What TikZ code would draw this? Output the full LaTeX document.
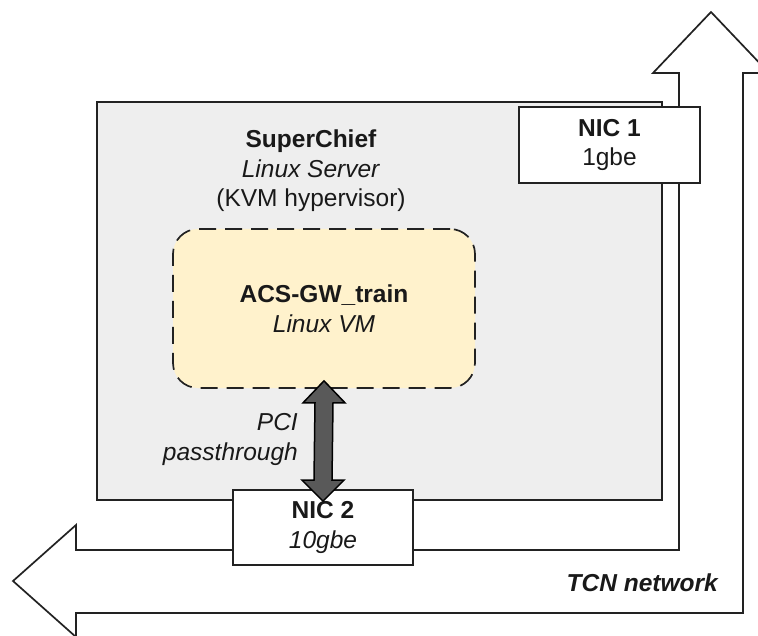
\documentclass[tikz,border=0pt]{standalone}
\usepackage{fontspec}
\setmainfont{Liberation Sans}
\usetikzlibrary{calc}

\definecolor{servergray}{HTML}{EEEEEE}
\definecolor{vmyellow}{HTML}{FFF2CC}
\definecolor{passgray}{HTML}{595959}
\definecolor{inkline}{HTML}{222222}

\tikzset{
  lbl/.style={font=\fontsize{24.5}{29.5}\selectfont, align=center, inner sep=0pt, text=black!90},
  boxline/.style={draw=inkline, line width=1.7pt},
  serverbox/.style={boxline, fill=servergray, rectangle, inner sep=0pt,
    minimum width=565pt, minimum height=398pt},
  nicbox/.style={boxline, fill=white, rectangle, inner sep=0pt,
    minimum width=181pt, minimum height=76pt, lbl},
  vmbox/.style={boxline, fill=vmyellow, rectangle, rounded corners=25pt,
    dash pattern=on 17pt off 9pt, inner sep=0pt,
    minimum width=302pt, minimum height=159pt, lbl, font=\fontsize{24.5}{30.5}\selectfont},
  netarrow/.style={draw=inkline, line width=1.7pt, fill=white, line join=miter},
  passarrow/.style={draw=black, line width=1.5pt, fill=passgray, line join=miter}
}

\begin{document}
\begin{tikzpicture}[x=1pt, y=-1pt]
  \useasboundingbox (0,0) rectangle (758,636);
  \clip (0,0) rectangle (758,636);

  % TCN network: L-shaped arrow pointing left and up
  \draw[netarrow] (13,581) -- (76,525) -- (76,550) -- (679,550) -- (679,73)
    -- (653,73) -- (711,12) -- (769,73) -- (743,73) -- (743,613)
    -- (76,613) -- (76,637) -- cycle;

  % host server
  \node[serverbox] (server) at (379.5,301) {};
  \node[lbl] (servertitle) at (311,171)
    {\textbf{SuperChief}\\ \textit{Linux Server}\\ (KVM hypervisor)};

  % guest VM
  \node[vmbox] (vm) at (324,308.5) {\textbf{ACS-GW\_train}\\ \textit{Linux VM}};

  % network interfaces
  \node[nicbox] (nic1) at (609.5,145) {\textbf{NIC 1}\\ 1gbe};
  \node[nicbox, minimum width=180pt, minimum height=75pt] (nic2) at (323,527.5)
    {\textbf{NIC 2}\\ \textit{10gbe}};

  % labels
  \node[lbl, anchor=east, align=right] (pci) at (298,439.5)
    {\textit{PCI}\\ \textit{passthrough}};
  \node[lbl, anchor=east] (tcn) at (719,583) {\textbf{\textit{TCN network}}};

  % PCI passthrough double arrow between VM and NIC 2
  \coordinate (pt) at ($(vm.south)+(0,-8)$);
  \coordinate (pb) at ($(nic2.north)+(0,12)$);
  \draw[passarrow] (pt) -- ++(21,22) -- ++(-12,0) -- ($(pb)+(9,-21)$)
    -- ++(12,0) -- (pb) -- ++(-21,-21) -- ++(12,0) -- ($(pt)+(-9,22)$)
    -- ++(-12,0) -- cycle;
\end{tikzpicture}
\end{document}
